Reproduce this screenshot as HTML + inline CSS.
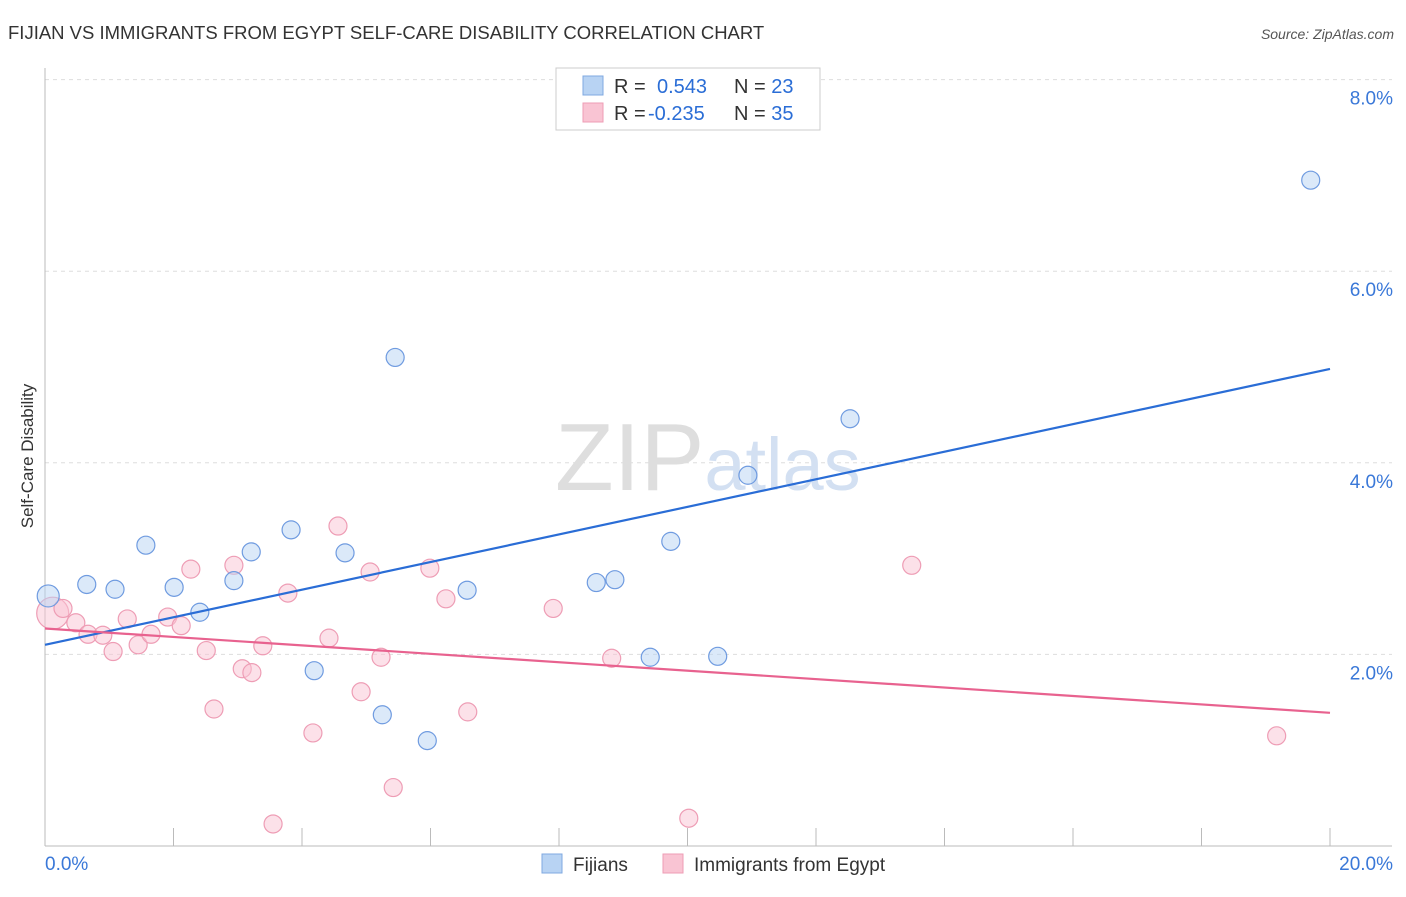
<!DOCTYPE html>
<html><head><meta charset="utf-8"><style>
body{margin:0;background:#fff;font-family:"Liberation Sans",sans-serif}
svg text{font-family:"Liberation Sans",sans-serif}
</style></head><body>
<svg width="1406" height="892" xmlns="http://www.w3.org/2000/svg">
<text x="8" y="39" font-size="18.5" fill="#333">FIJIAN VS IMMIGRANTS FROM EGYPT SELF-CARE DISABILITY CORRELATION CHART</text>
<text x="1394" y="39" font-size="14" fill="#555" text-anchor="end" font-style="italic">Source: ZipAtlas.com</text>
<g id="grid"></g>
<text x="555" y="490" font-size="96" fill="#e0e0e0" font-family="Liberation Serif"><tspan fill="#dedede">ZIP</tspan><tspan fill="#d3e0f2" font-family="Liberation Sans" font-size="74">atlas</tspan></text>
<text x="33" y="456" font-size="17" fill="#333" text-anchor="middle" transform="rotate(-90 33 456)">Self-Care Disability</text>
<g id="pts"></g>
<g>
<rect x="556" y="68" width="264" height="62" fill="#fff" stroke="#ccc"/>
<rect x="583" y="76" width="20" height="19" fill="#b8d3f3" stroke="#7fa8e0"/>
<rect x="583" y="103" width="20" height="19" fill="#f9c4d3" stroke="#ee9db5"/>
<text x="614" y="93" font-size="20" fill="#333">R = <tspan fill="#2a6dd6" x="657">0.543</tspan><tspan fill="#333" x="734">N = </tspan><tspan fill="#2a6dd6">23</tspan></text>
<text x="614" y="120" font-size="20" fill="#333">R = <tspan fill="#2a6dd6" x="648">-0.235</tspan><tspan fill="#333" x="734">N = </tspan><tspan fill="#2a6dd6">35</tspan></text>
</g>
<g>
<rect x="542" y="854" width="20" height="19" fill="#b8d3f3" stroke="#7fa8e0"/>
<text x="573" y="871" font-size="19" fill="#333">Fijians</text>
<rect x="663" y="854" width="20" height="19" fill="#f9c4d3" stroke="#ee9db5"/>
<text x="694" y="871" font-size="19" fill="#333">Immigrants from Egypt</text>
</g>
</svg>
<script>
const blueX=[0.05,0.65,1.09,1.57,2.01,2.41,2.94,3.21,3.83,4.19,4.67,5.25,5.45,5.95,6.57,8.58,8.87,9.42,9.74,10.47,10.94,12.53,19.70];
const blueY=[2.61,2.73,2.68,3.14,2.70,2.44,2.77,3.07,3.30,1.83,3.06,1.37,5.10,1.10,2.67,2.75,2.78,1.97,3.18,1.98,3.87,4.46,6.95];
const pinkX=[0.12,0.28,0.48,0.67,0.90,1.06,1.28,1.45,1.65,1.91,2.12,2.27,2.51,2.63,2.94,3.07,3.22,3.39,3.55,3.78,4.17,4.42,4.56,4.92,5.06,5.23,5.42,5.99,6.24,6.58,7.91,8.82,10.02,13.49,19.17];
const pinkY=[2.43,2.48,2.33,2.21,2.20,2.03,2.37,2.10,2.21,2.39,2.30,2.89,2.04,1.43,2.93,1.85,1.81,2.09,0.23,2.64,1.18,2.17,3.34,1.61,2.86,1.97,0.61,2.90,2.58,1.40,2.48,1.96,0.29,2.93,1.15];
const blueTrend=[2.10,4.98];
const pinkTrend=[2.27,1.39];
const yTicks=[2,4,6,8];
const xTicks=[0,2,4,6,8,10,12,14,16,18,20];
const NS="http://www.w3.org/2000/svg";
const sx=v=>45+v*1285/20, sy=v=>846-v*95.8;
function mk(t,a,p){const e=document.createElementNS(NS,t);for(const k in a)e.setAttribute(k,a[k]);p.appendChild(e);return e;}
const grid=document.getElementById('grid');
yTicks.forEach(v=>{
 const l=mk('line',{x1:45,x2:1392,y1:sy(v),y2:sy(v),stroke:'#ddd','stroke-dasharray':'4,4'},grid);
 
 
 const t=mk('text',{x:1393,y:sy(v)+25,'font-size':19,fill:'#3a78d8','text-anchor':'end'},grid);
 t.textContent=v.toFixed(1)+'%';
 
 
});
const ax=mk('line',{x1:45,x2:45,y1:68,y2:846,stroke:'#bbb'},grid);


const bx=mk('line',{x1:45,x2:1392,y1:846,y2:846,stroke:'#bbb'},grid);


xTicks.forEach(v=>{if(v===0)return;
 const l=mk('line',{x1:sx(v),x2:sx(v),y1:828,y2:846,stroke:'#bbb'},grid);
 
 
});
[[0,'0.0%','start',45],[20,'20.0%','end',1393]].forEach(([v,s,a,x])=>{
 const t=mk('text',{x:x,y:870,'font-size':19,fill:'#3a78d8','text-anchor':a},grid);
 t.textContent=s;
 
 
});
const pts=document.getElementById('pts');
function series(X,Y,fill,stroke,name){X.forEach((x,i)=>{
 const r=(i===0)?(name==='pink-point'?16:11):9;
 const c=mk('circle',{cx:sx(x),cy:sy(Y[i]),r:r,fill:fill,'fill-opacity':0.5,stroke:stroke,'stroke-width':1.2},pts);
 
 
});}
series(pinkX,pinkY,'#f9c4d3','#ee9db5','pink-point');
series(blueX,blueY,'#b8d3f3','#6f9be0','blue-point');
const bl=mk('line',{x1:sx(0),y1:sy(blueTrend[0]),x2:sx(20),y2:sy(blueTrend[1]),stroke:'#2a6dd6','stroke-width':2.2},pts);


const pl=mk('line',{x1:sx(0),y1:sy(pinkTrend[0]),x2:sx(20),y2:sy(pinkTrend[1]),stroke:'#e8628f','stroke-width':2.2},pts);


</script>
</body></html>
